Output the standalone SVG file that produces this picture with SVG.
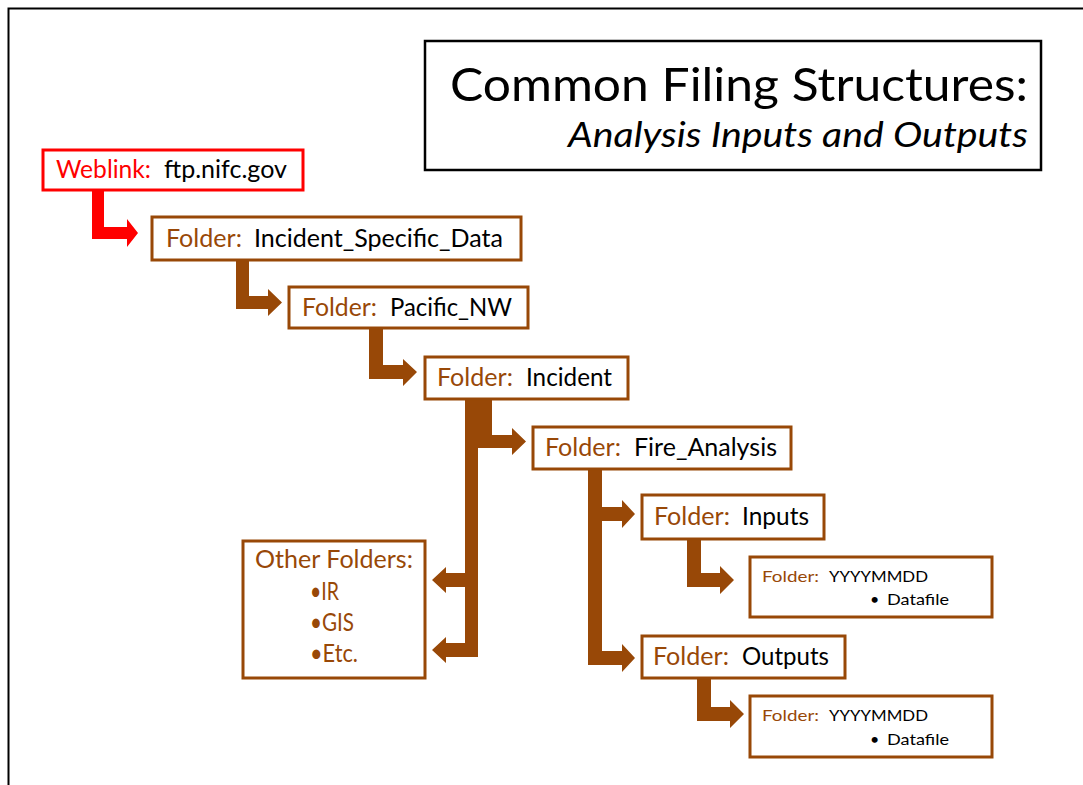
<svg xmlns="http://www.w3.org/2000/svg" width="1083" height="785" viewBox="0 0 1083 785">
<style>
.box{fill:#fff;stroke:#984807;stroke-width:3}
.lbl{font-family:Lato,"Open Sans","Liberation Sans",sans-serif;font-size:25px;fill:#984807}
.val{font-family:Lato,"Open Sans","Liberation Sans",sans-serif;font-size:25px;fill:#000}
.slbl{font-family:Lato,"Open Sans","Liberation Sans",sans-serif;font-size:16px;fill:#984807}
.sval{font-family:Lato,"Open Sans","Liberation Sans",sans-serif;font-size:16px;fill:#000}
.arr{fill:#984807;stroke:none}
</style>
<rect width="1083" height="785" fill="#fff"/>
<path d="M8.5,785 V8.5 H1083" fill="none" stroke="#000" stroke-width="2"/>

<g id="title">
<rect x="425" y="41" width="616" height="129" fill="#fff" stroke="#000" stroke-width="2.5"/>
<text x="450" y="101" textLength="578" lengthAdjust="spacingAndGlyphs" font-family="Lato,'Open Sans','Liberation Sans',sans-serif" font-size="47" fill="#000">Common Filing Structures:</text>
<text x="568" y="147" textLength="460" lengthAdjust="spacingAndGlyphs" font-family="Lato,'Open Sans','Liberation Sans',sans-serif" font-size="34" font-style="italic" fill="#000">Analysis Inputs and Outputs</text>
</g>

<g id="connectors">
<path d="M92,189 H104 V227 H127 V219 L138,233 L127,247 V239 H92 Z" fill="#FF0000"/>
<path class="arr" d="M236,259 H249 V296 H268 V289 L282,302.5 L268,316 V309 H236 Z"/>
<path class="arr" d="M369,327 H383 V365 H403 V359 L417,372 L403,386 V379 H369 Z"/>
<path class="arr" d="M478,398 H492 V435 H512 V428 L526,441.5 L512,455 V448 H478 Z"/>
<path class="arr" d="M465,398 H478 V657 H446 V663 L432,650 L446,637 V643 H465 V587 H446 V593 L432,580 L446,567 V573 H465 Z"/>
<path class="arr" d="M588,468 H602 V507 H622 V500 L635,514 L622,528 V521 H602 V651 H622 V644 L635,658 L622,672 V665 H588 Z"/>
<path class="arr" d="M687,538 H701 V573 H720 V566 L734,580 L720,594 V587 H687 Z"/>
<path class="arr" d="M697,677 H711 V707 H730 V700 L744,714 L730,728 V721 H697 Z"/>
</g>

<g id="weblink">
<rect x="43" y="150" width="260" height="40" fill="#fff" stroke="#FF0000" stroke-width="3"/>
<text x="56" y="178" textLength="95" lengthAdjust="spacingAndGlyphs" class="lbl" fill="#FF0000" style="fill:#FF0000">Weblink:</text>
<text x="164" y="178" textLength="123" lengthAdjust="spacingAndGlyphs" class="val">ftp.nifc.gov</text>
</g>

<g id="incident-specific-data">
<rect class="box" x="152" y="217" width="369" height="43"/>
<text x="166" y="247" textLength="76" lengthAdjust="spacingAndGlyphs" class="lbl">Folder:</text>
<text x="254" y="247" textLength="249" lengthAdjust="spacingAndGlyphs" class="val">Incident_Specific_Data</text>
</g>

<g id="pacific-nw">
<rect class="box" x="289" y="287" width="239" height="41"/>
<text x="302" y="316" textLength="75" lengthAdjust="spacingAndGlyphs" class="lbl">Folder:</text>
<text x="390" y="316" textLength="122" lengthAdjust="spacingAndGlyphs" class="val">Pacific_NW</text>
</g>

<g id="incident">
<rect class="box" x="425" y="357" width="203" height="42"/>
<text x="437" y="386" textLength="76" lengthAdjust="spacingAndGlyphs" class="lbl">Folder:</text>
<text x="526" y="386" textLength="86" lengthAdjust="spacingAndGlyphs" class="val">Incident</text>
</g>

<g id="fire-analysis">
<rect class="box" x="533" y="427" width="258" height="42"/>
<text x="545" y="456" textLength="76" lengthAdjust="spacingAndGlyphs" class="lbl">Folder:</text>
<text x="634" y="456" textLength="143" lengthAdjust="spacingAndGlyphs" class="val">Fire_Analysis</text>
</g>

<g id="inputs">
<rect class="box" x="642" y="495" width="182" height="44"/>
<text x="654" y="525" textLength="76" lengthAdjust="spacingAndGlyphs" class="lbl">Folder:</text>
<text x="742" y="525" textLength="67" lengthAdjust="spacingAndGlyphs" class="val">Inputs</text>
</g>

<g id="inputs-date">
<rect class="box" x="750" y="557" width="242" height="60"/>
<text x="762" y="582" textLength="57" lengthAdjust="spacingAndGlyphs" class="slbl">Folder:</text>
<text x="829" y="582" textLength="99" lengthAdjust="spacingAndGlyphs" class="sval">YYYYMMDD</text>
<text x="870" y="605" class="sval">•</text>
<text x="887" y="605" textLength="62" lengthAdjust="spacingAndGlyphs" class="sval">Datafile</text>
</g>

<g id="outputs">
<rect class="box" x="642" y="636" width="203" height="42"/>
<text x="653" y="665" textLength="76" lengthAdjust="spacingAndGlyphs" class="lbl">Folder:</text>
<text x="742" y="665" textLength="87" lengthAdjust="spacingAndGlyphs" class="val">Outputs</text>
</g>

<g id="outputs-date">
<rect class="box" x="750" y="696" width="242" height="61"/>
<text x="762" y="721" textLength="57" lengthAdjust="spacingAndGlyphs" class="slbl">Folder:</text>
<text x="829" y="721" textLength="99" lengthAdjust="spacingAndGlyphs" class="sval">YYYYMMDD</text>
<text x="870" y="745" class="sval">•</text>
<text x="887" y="745" textLength="62" lengthAdjust="spacingAndGlyphs" class="sval">Datafile</text>
</g>

<g id="other-folders">
<rect class="box" x="243" y="541" width="182" height="137"/>
<text x="255" y="568" textLength="158" lengthAdjust="spacingAndGlyphs" class="lbl">Other Folders:</text>
<text x="310" y="600" textLength="29" lengthAdjust="spacingAndGlyphs" class="lbl">•IR</text>
<text x="310" y="631" textLength="44" lengthAdjust="spacingAndGlyphs" class="lbl">•GIS</text>
<text x="310" y="662" textLength="48" lengthAdjust="spacingAndGlyphs" class="lbl">•Etc.</text>
</g>
</svg>
